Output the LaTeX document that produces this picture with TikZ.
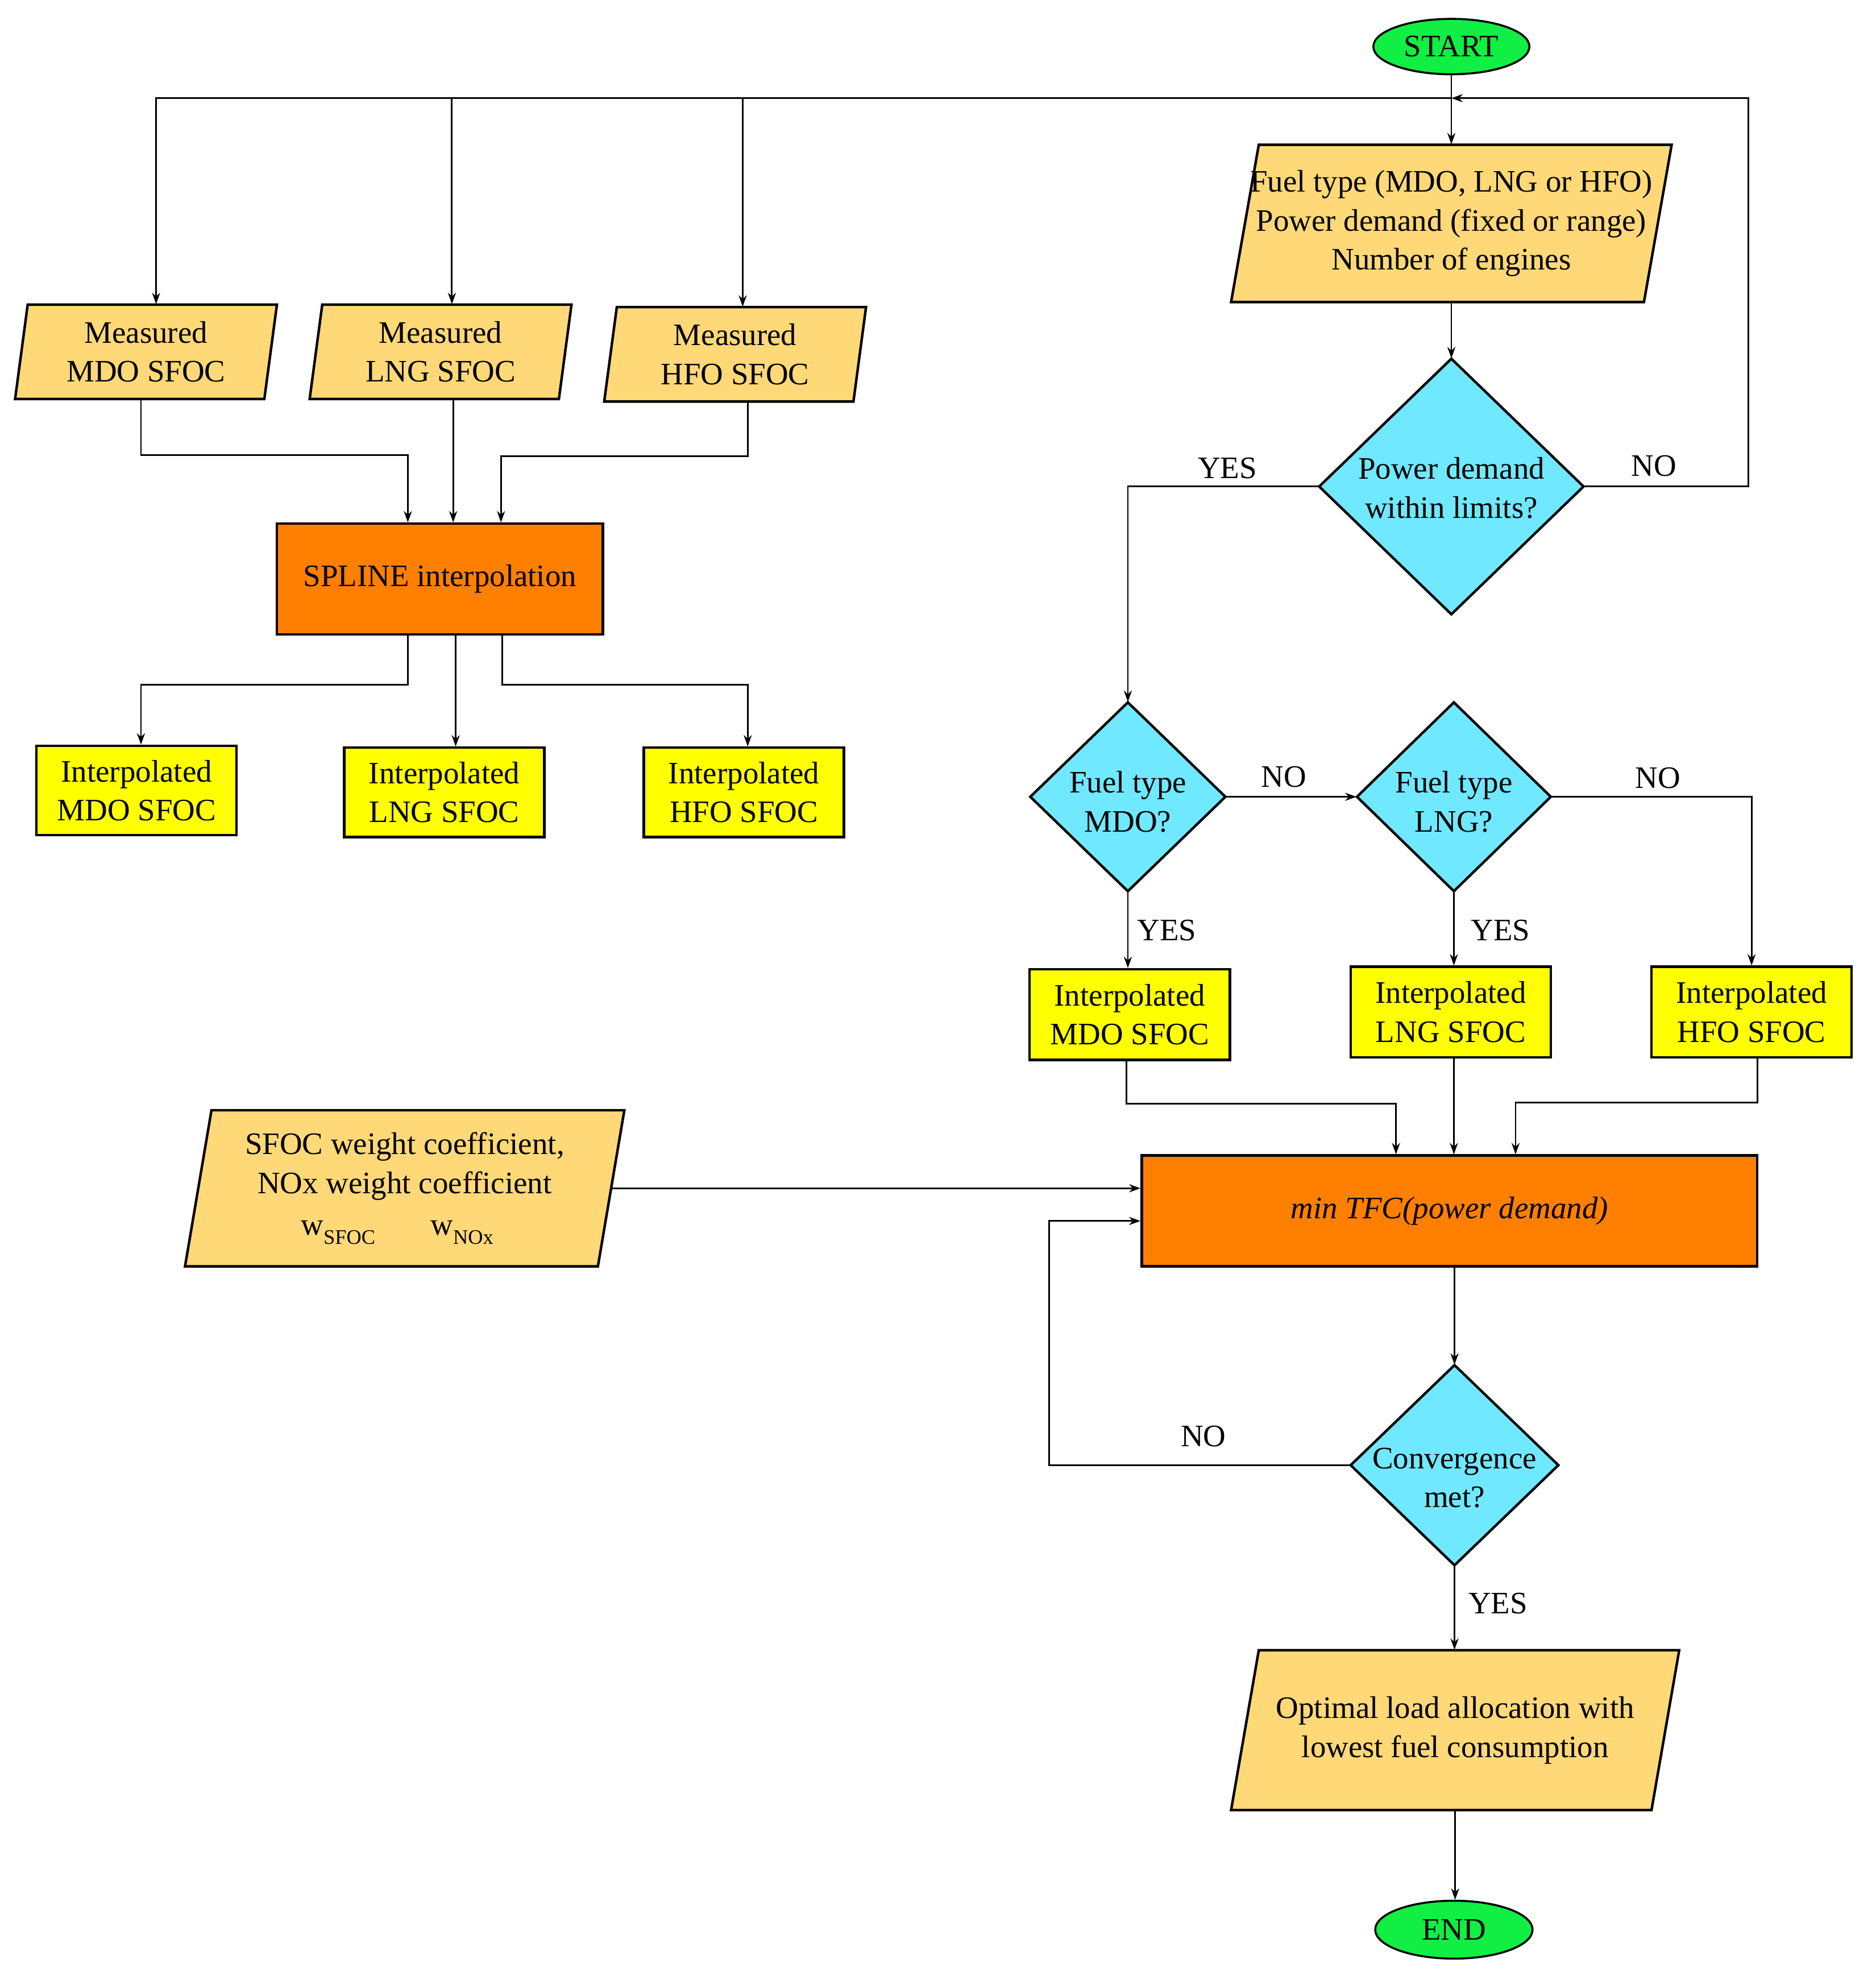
\documentclass[tikz,border=0pt]{standalone}
\usepackage{fontspec}
\setmainfont{Liberation Serif}
\usetikzlibrary{shapes.geometric,arrows.meta,calc}
\definecolor{iofill}{RGB}{255,216,120}
\definecolor{orangefill}{RGB}{255,128,0}
\definecolor{yellowfill}{RGB}{255,255,0}
\definecolor{dcyan}{RGB}{112,232,255}
\definecolor{tgreen}{RGB}{17,238,68}
\tikzset{
  ln/.style={line width=0.65pt, draw=black},
  arr/.style={ln, -{Stealth[length=4.5pt,width=3.2pt]}},
  shapeline/.style={draw=black, line width=1pt, line join=miter},
  anchorbox/.style={rectangle, inner sep=0pt, align=center},
  txt/.style={inner sep=0pt, align=center},
  rectbox/.style={rectangle, draw=black, line width=1pt, inner sep=0pt, align=center},
  termbox/.style={ellipse, draw=black, line width=0.8pt, fill=tgreen, inner sep=0pt},
  lbl/.style={inner sep=0pt}
}
\newcommand\iobox[7]{%
  \draw[shapeline,fill=iofill] ({#2-#4/2-#6},{#3+#5/2}) -- ({#2+#4/2-#6},{#3+#5/2}) -- ({#2+#4/2+#6},{#3-#5/2}) -- ({#2-#4/2+#6},{#3-#5/2}) -- cycle;
  \node[anchorbox, minimum width={#4*0.5pt}, minimum height={#5*0.5pt}] (#1) at (#2,#3) {#7};}
\newcommand\diabox[7]{%
  \draw[shapeline,fill=dcyan] ({#2-#4/2},#3) -- (#2,{#3-#5/2}) -- ({#2+#4/2},#3) -- (#2,{#3+#5/2}) -- cycle;
  \node[anchorbox, minimum width={#4*0.5pt}, minimum height={#5*0.5pt}] (#1) at (#2,#3) {};
  \node[txt] (#1-t) at (#2,{#3+#7}) {#6};}
\newcommand\lowsub[1]{\raisebox{-3.5pt}{\fontsize{8.2}{9}\selectfont #1}}
\begin{document}
\begin{tikzpicture}[x=0.5pt,y=-0.5pt, every node/.style={font=\fontsize{12.4}{15.5}\selectfont}]
\useasboundingbox (0,0) rectangle (1490,1573);
\fill[white] (0,0) rectangle (1490,1573);

% terminals
\node[termbox, minimum width=62pt, minimum height=22pt] (start) at (1153,37) {START};
\node[termbox, minimum width=62.5pt, minimum height=23pt] (end) at (1155,1533) {END};

% input boxes
\iobox{fuel}{1153}{177.5}{328}{125}{11}{Fuel type (MDO, LNG or HFO)\\Power demand (fixed or range)\\Number of engines}
\iobox{mmdo}{116}{279.5}{198}{75}{5}{Measured\\MDO SFOC}
\iobox{mlng}{350}{279.5}{198}{75}{5}{Measured\\LNG SFOC}
\iobox{mhfo}{584}{281.5}{198}{75}{5}{Measured\\HFO SFOC}
\iobox{wt}{321.5}{944}{328}{124}{10.5}{SFOC weight coefficient,\\NOx weight coefficient\\[1pt]\hspace*{-6pt}w\lowsub{SFOC}\hspace{22pt}w\lowsub{NOx}}
\iobox{opt}{1156}{1374.5}{334}{127}{11}{Optimal load allocation with\\lowest fuel consumption}

% process boxes
\node[rectbox, fill=orangefill, minimum width=129.5pt, minimum height=44pt] (spline) at (349.5,460) {SPLINE interpolation};
\node[rectbox, fill=orangefill, minimum width=244.5pt, minimum height=44pt] (tfc) at (1151.5,962) {\textit{min TFC(power demand)}};

\node[rectbox, fill=yellowfill, minimum width=79.5pt, minimum height=35.5pt] (imdo) at (108.5,628) {Interpolated\\MDO SFOC};
\node[rectbox, fill=yellowfill, minimum width=79.5pt, minimum height=35.5pt] (ilng) at (353,629.5) {Interpolated\\LNG SFOC};
\node[rectbox, fill=yellowfill, minimum width=79.5pt, minimum height=35.5pt] (ihfo) at (591,629.5) {Interpolated\\HFO SFOC};

\node[rectbox, fill=yellowfill, minimum width=79.5pt, minimum height=36pt] (rmdo) at (897.5,806) {Interpolated\\MDO SFOC};
\node[rectbox, fill=yellowfill, minimum width=79.5pt, minimum height=36pt] (rlng) at (1152.5,804) {Interpolated\\LNG SFOC};
\node[rectbox, fill=yellowfill, minimum width=79.5pt, minimum height=36pt] (rhfo) at (1391.5,804) {Interpolated\\HFO SFOC};

% decisions
\diabox{pd}{1153}{386.5}{210}{203}{Power demand\\within limits?}{1}
\diabox{dmdo}{896}{633}{155}{150}{Fuel type\\MDO?}{4}
\diabox{dlng}{1155}{633}{154}{150}{Fuel type\\LNG?}{4}
\diabox{conv}{1155.5}{1164}{165}{159}{Convergence\\met?}{10}

% coordinates
\coordinate (j0) at (1153,78);
\coordinate (cR) at (1389,78);

% connectors
\draw[arr] (start.south) -- (fuel.north);
\draw[arr] (j0) -| ([xshift=4pt]mmdo.north);
\draw[arr] (j0) -| ([xshift=4.5pt]mlng.north);
\draw[arr] (j0) -| ([xshift=3pt]mhfo.north);
\draw[arr] (pd.east) -| (cR) -- (j0);
\draw[arr] (fuel.south) -- (pd.north);

\draw[arr] ([xshift=-2pt]mmdo.south) -- ++(0,44) -| ([xshift=-12.75pt]spline.north);
\draw[arr] ([xshift=5pt]mlng.south) -- ([xshift=5.25pt]spline.north);
\draw[arr] ([xshift=5pt]mhfo.south) -- ++(0,43) -| ([xshift=24.25pt]spline.north);

\draw[arr] ([xshift=-12.75pt]spline.south) -- ++(0,39) -| ([xshift=1.75pt]imdo.north);
\draw[arr] ([xshift=6.25pt]spline.south) -- ([xshift=4.5pt]ilng.north);
\draw[arr] ([xshift=24.75pt]spline.south) -- ++(0,39) -| ([xshift=1.5pt]ihfo.north);

\draw[arr] (pd.west) -| (dmdo.north);
\draw[arr] (dmdo.east) -- (dlng.west);
\draw[arr] (dlng.east) -| (rhfo.north);
\draw[arr] (dmdo.south) -- (dmdo.south |- rmdo.north);
\draw[arr] (dlng.south) -- (dlng.south |- rlng.north);

\draw[arr] ([xshift=-1.25pt]rmdo.south) -- ++(0,34) -| ([xshift=-21.25pt]tfc.north);
\draw[arr] ([xshift=1.25pt]rlng.south) -- ([xshift=1.75pt]tfc.north);
\draw[arr] ([xshift=2.25pt]rhfo.south) -- ++(0,35) -| ([xshift=26.25pt]tfc.north);

\draw[arr] (wt.east) -- (wt.east -| tfc.west);
\draw[arr] (conv.north |- tfc.south) -- (conv.north);
\draw[arr] (conv.west) -- ++(-239,0) |- ([yshift=-4pt]tfc.west);
\draw[arr] (conv.south) -- (conv.south |- opt.north);
\draw[arr] (opt.south) -- (opt.south |- end.north);

% labels
\node[lbl] (l1) at (975,372) {YES};
\node[lbl] (l2) at (1314,370) {NO};
\node[lbl] (l3) at (1020,617) {NO};
\node[lbl] (l4) at (1317,618) {NO};
\node[lbl] (l5) at (927,739) {YES};
\node[lbl] (l6) at (1192,739) {YES};
\node[lbl] (l7) at (956,1141) {NO};
\node[lbl] (l8) at (1190,1274) {YES};
\end{tikzpicture}
\end{document}
